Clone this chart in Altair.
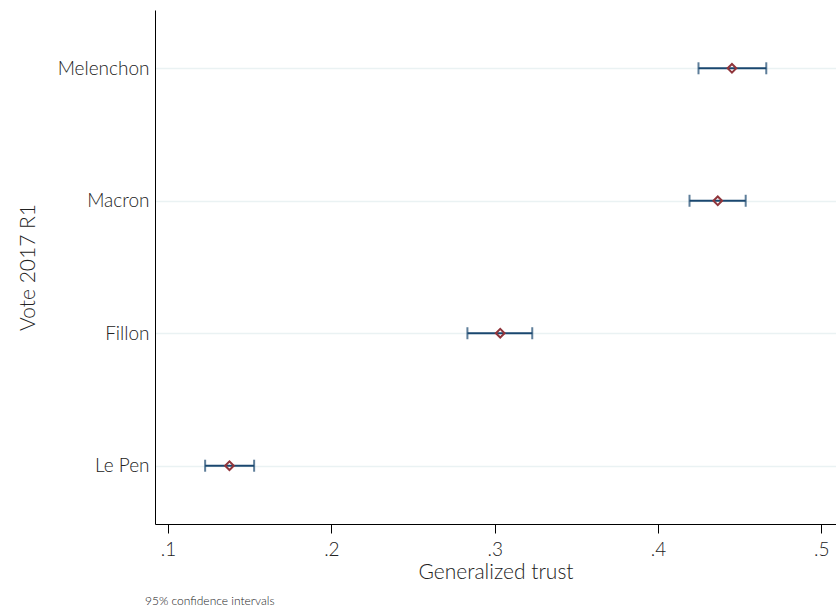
import altair as alt
import pandas as pd

categories = ["Melenchon", "Macron", "Fillon", "Le Pen"]
estimate = [0.4453, 0.4366, 0.3034, 0.1376]
ci_low = [0.4248, 0.4193, 0.2833, 0.1227]
ci_high = [0.4663, 0.4537, 0.3230, 0.1527]
x_ticks = [0.1, 0.2, 0.3, 0.4, 0.5]
x_labels = [".1", ".2", ".3", ".4", ".5"]

df = pd.DataFrame({"vote": categories, "est": estimate, "lo": ci_low, "hi": ci_high})

FONT = "Lato"
NAVY = "#1a476f"
RED = "#90353b"

label_expr = "{" + ",".join(f"'{v}':'{l}'" for v, l in zip(x_ticks, x_labels)) + "}[datum.value]"

xscale = alt.Scale(domain=[0.092, 0.509], nice=False, zero=False)
yscale = alt.Scale(type="point", domain=categories, padding=0.44)

x_axis = alt.Axis(values=x_ticks, labelExpr=label_expr, title="Generalized trust",
                  grid=False, tickSize=9, labelPadding=7, titlePadding=2)
y_axis = alt.Axis(title="Vote 2017 R1", ticks=False, grid=True, gridColor="#eaf2f3",
                  gridWidth=1.5, labelPadding=6, titlePadding=19)

base = alt.Chart(df)

rules = base.mark_rule(color=NAVY, strokeWidth=2).encode(
    x=alt.X("lo:Q", scale=xscale, axis=x_axis),
    x2="hi:Q",
    y=alt.Y("vote:N", scale=yscale, sort=categories, axis=y_axis),
)
cap_lo = base.mark_tick(color=NAVY, orient="vertical", size=12, thickness=2).encode(
    x=alt.X("lo:Q", scale=xscale, axis=x_axis), y=alt.Y("vote:N", scale=yscale, sort=categories, axis=y_axis))
cap_hi = base.mark_tick(color=NAVY, orient="vertical", size=12, thickness=2).encode(
    x=alt.X("hi:Q", scale=xscale, axis=x_axis), y=alt.Y("vote:N", scale=yscale, sort=categories, axis=y_axis))
points = base.mark_point(shape="diamond", filled=False, color=RED, strokeWidth=2, size=75, opacity=1).encode(
    x=alt.X("est:Q", scale=xscale, axis=x_axis), y=alt.Y("vote:N", scale=yscale, sort=categories, axis=y_axis))

note = alt.Chart(pd.DataFrame({"t": ["95% confidence intervals"]})).mark_text(
    align="left", baseline="middle", font=FONT, fontSize=12, color="#222", fontWeight=300
).encode(text="t:N", x=alt.value(-10), y=alt.value(591))

chart = alt.layer(rules, cap_lo, cap_hi, points, note).properties(
    width=681, height=514,
    background="white",
    autosize=alt.AutoSizeParams(type="none"),
    padding={"left": 155, "top": 10, "right": 0, "bottom": 89},
).configure_view(stroke="transparent", strokeWidth=0).configure_axis(
    labelFont=FONT, titleFont=FONT, labelFontSize=19, titleFontSize=21,
    labelColor="#222", titleColor="#222", titleFontWeight=300, labelFontWeight=300,
    domainColor="#000", tickColor="#000", tickWidth=1, domainWidth=1,
)

chart.save("out.html", embed_options={"renderer": "svg", "actions": False})
